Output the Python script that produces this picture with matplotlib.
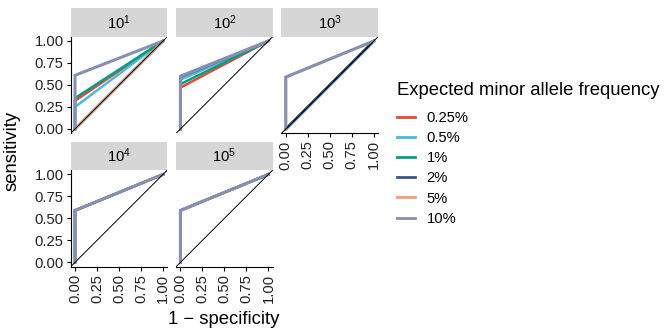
import matplotlib
matplotlib.use("Agg")
import matplotlib.pyplot as plt
from matplotlib.lines import Line2D

plt.rcParams['font.family'] = ['Liberation Sans', 'DejaVu Sans']
plt.rcParams['mathtext.fontset'] = 'custom'
plt.rcParams['mathtext.rm'] = 'Liberation Sans'
plt.rcParams['mathtext.it'] = 'Liberation Sans:italic'

# ---- data ----
maf_labels = ['0.25%', '0.5%', '1%', '2%', '5%', '10%']
maf_colors = ['#E64B35', '#4DBBD5', '#00A087', '#3C5488', '#F39B7F', '#8491B4']
panel_labels = [r'$\mathregular{10^{1}}$', r'$\mathregular{10^{2}}$', r'$\mathregular{10^{3}}$',
                r'$\mathregular{10^{4}}$', r'$\mathregular{10^{5}}$']
roc_fpr = [0.0, 0.0, 1.0]
# sensitivity at specificity = 1 for each MAF (per panel)
sens_1e1 = [0.32, 0.25, 0.35, 0.00, 0.00, 0.61]
sens_1e2 = [0.47, 0.56, 0.51, 0.59, 0.60, 0.60]
sens_1e3 = [0.00, 0.00, 0.00, 0.00, 0.59, 0.59]
sens_1e4 = [0.59, 0.59, 0.59, 0.59, 0.59, 0.59]
sens_1e5 = [0.59, 0.59, 0.59, 0.59, 0.59, 0.59]
panel_sens = [sens_1e1, sens_1e2, sens_1e3, sens_1e4, sens_1e5]
tick_vals = [0.0, 0.25, 0.5, 0.75, 1.0]
tick_labels = ['0.00', '0.25', '0.50', '0.75', '1.00']

W, H = 666, 331
fig = plt.figure(figsize=(W / 100, H / 100), dpi=100)

def rect(x0, y0, w, h):
    return [x0 / W, 1 - (y0 + h) / H, w / W, h / H]

size = 96.8
strip_h = 28.4
lefts = [70.6, 176.0, 281.4]
tops = [36.6, 170.0]
small = 10.6
big = 13.3

for i, sens in enumerate(panel_sens):
    r, c = divmod(i, 3)
    x0, y0 = lefts[c], tops[r]
    ax = fig.add_axes(rect(x0, y0, size, size))
    sax = fig.add_axes(rect(x0, y0 - strip_h, size, strip_h))
    sax.set_facecolor('#D6D6D6')
    sax.set_xticks([]); sax.set_yticks([])
    for s in sax.spines.values():
        s.set_visible(False)
    sax.text(0.5, 0.5, panel_labels[i], ha='center', va='center', fontsize=small,
             transform=sax.transAxes)

    for k, (lab, col) in enumerate(zip(maf_labels, maf_colors)):
        lw = 2.2 if lab == '10%' else 1.8
        ax.plot(roc_fpr, [0.0, sens[k], 1.0], color=col, lw=lw,
                solid_joinstyle='miter', label=lab)
    ax.plot([-0.05, 1.05], [-0.05, 1.05], color='black', lw=0.7)
    ax.set_xlim(-0.05, 1.05)
    ax.set_ylim(-0.05, 1.05)
    ax.spines['top'].set_visible(False)
    ax.spines['right'].set_visible(False)
    for s in ax.spines.values():
        s.set_linewidth(0.8)
    show_left = (c == 0)
    show_bottom = (r == 1) or (c == 2)
    ax.spines['left'].set_visible(show_left)
    ax.spines['bottom'].set_visible(show_bottom)
    ax.set_xticks(tick_vals)
    ax.set_yticks(tick_vals)
    ax.set_xticklabels(tick_labels, rotation=90, fontsize=small, color='#222222')
    ax.set_yticklabels(tick_labels, fontsize=small, color='#222222')
    ax.tick_params(axis='both', length=3, width=0.8, pad=2)
    ax.tick_params(axis='x', bottom=show_bottom, labelbottom=show_bottom)
    ax.tick_params(axis='y', left=show_left, labelleft=show_left)
    ax.patch.set_alpha(0)

fig.text(224 / W, 1 - 320 / H, '1 \u2212 specificity', ha='center', va='center', fontsize=big)
fig.text(12 / W, 1 - 151 / H, 'sensitivity', ha='center', va='center', rotation=90, fontsize=big)

leg_handles = [Line2D([0], [0], color=c, lw=2) for c in maf_colors]
leg = fig.legend(leg_handles, maf_labels, loc='upper left',
                 bbox_to_anchor=(397 / W, 1 - 82 / H), frameon=False,
                 fontsize=small, title='Expected minor allele frequency',
                 title_fontsize=big, handlelength=1.2, handletextpad=0.8,
                 labelspacing=0.42, borderaxespad=0, borderpad=0)
leg._legend_box.align = 'left'
leg._legend_box.sep = 8.5

fig.savefig('out.png', dpi=100)
